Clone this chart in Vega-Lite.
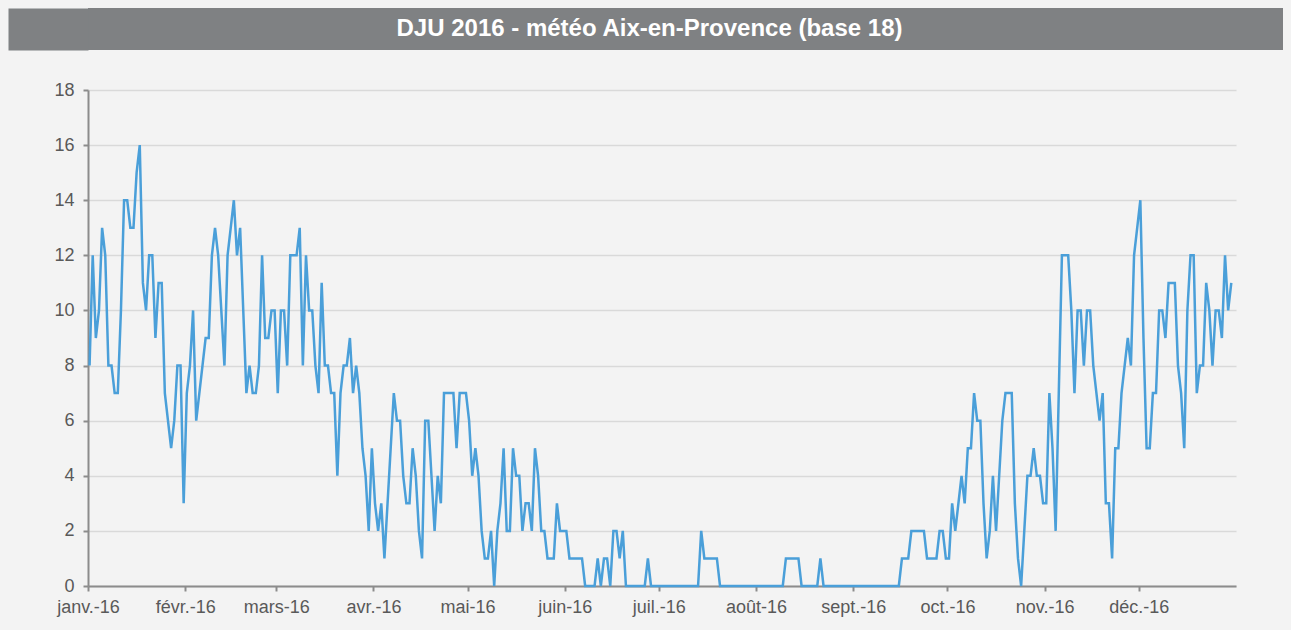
{
"$schema": "https://vega.github.io/schema/vega-lite/v6.json",
"background": "#f3f3f3",
"padding": {"left": 8, "top": 8, "right": 8, "bottom": 14},
"config": {"view": {"stroke": null}, "font": "Liberation Sans"},
"datasets": {
"head": [{"t": "DJU 2016 - météo Aix-en-Provence (base 18)"}],
"dju": [
{"date":"2016-01-01","dju":8},{"date":"2016-01-02","dju":12},{"date":"2016-01-03","dju":9},{"date":"2016-01-04","dju":10},{"date":"2016-01-05","dju":13},{"date":"2016-01-06","dju":12},{"date":"2016-01-07","dju":8},{"date":"2016-01-08","dju":8},{"date":"2016-01-09","dju":7},{"date":"2016-01-10","dju":7},{"date":"2016-01-11","dju":10},{"date":"2016-01-12","dju":14},{"date":"2016-01-13","dju":14},{"date":"2016-01-14","dju":13},{"date":"2016-01-15","dju":13},{"date":"2016-01-16","dju":15},{"date":"2016-01-17","dju":16},{"date":"2016-01-18","dju":11},{"date":"2016-01-19","dju":10},{"date":"2016-01-20","dju":12},{"date":"2016-01-21","dju":12},{"date":"2016-01-22","dju":9},{"date":"2016-01-23","dju":11},{"date":"2016-01-24","dju":11},{"date":"2016-01-25","dju":7},{"date":"2016-01-26","dju":6},{"date":"2016-01-27","dju":5},{"date":"2016-01-28","dju":6},{"date":"2016-01-29","dju":8},{"date":"2016-01-30","dju":8},{"date":"2016-01-31","dju":3},
{"date":"2016-02-01","dju":7},{"date":"2016-02-02","dju":8},{"date":"2016-02-03","dju":10},{"date":"2016-02-04","dju":6},{"date":"2016-02-05","dju":7},{"date":"2016-02-06","dju":8},{"date":"2016-02-07","dju":9},{"date":"2016-02-08","dju":9},{"date":"2016-02-09","dju":12},{"date":"2016-02-10","dju":13},{"date":"2016-02-11","dju":12},{"date":"2016-02-12","dju":10},{"date":"2016-02-13","dju":8},{"date":"2016-02-14","dju":12},{"date":"2016-02-15","dju":13},{"date":"2016-02-16","dju":14},{"date":"2016-02-17","dju":12},{"date":"2016-02-18","dju":13},{"date":"2016-02-19","dju":10},{"date":"2016-02-20","dju":7},{"date":"2016-02-21","dju":8},{"date":"2016-02-22","dju":7},{"date":"2016-02-23","dju":7},{"date":"2016-02-24","dju":8},{"date":"2016-02-25","dju":12},{"date":"2016-02-26","dju":9},{"date":"2016-02-27","dju":9},{"date":"2016-02-28","dju":10},{"date":"2016-02-29","dju":10},
{"date":"2016-03-01","dju":7},{"date":"2016-03-02","dju":10},{"date":"2016-03-03","dju":10},{"date":"2016-03-04","dju":8},{"date":"2016-03-05","dju":12},{"date":"2016-03-06","dju":12},{"date":"2016-03-07","dju":12},{"date":"2016-03-08","dju":13},{"date":"2016-03-09","dju":8},{"date":"2016-03-10","dju":12},{"date":"2016-03-11","dju":10},{"date":"2016-03-12","dju":10},{"date":"2016-03-13","dju":8},{"date":"2016-03-14","dju":7},{"date":"2016-03-15","dju":11},{"date":"2016-03-16","dju":8},{"date":"2016-03-17","dju":8},{"date":"2016-03-18","dju":7},{"date":"2016-03-19","dju":7},{"date":"2016-03-20","dju":4},{"date":"2016-03-21","dju":7},{"date":"2016-03-22","dju":8},{"date":"2016-03-23","dju":8},{"date":"2016-03-24","dju":9},{"date":"2016-03-25","dju":7},{"date":"2016-03-26","dju":8},{"date":"2016-03-27","dju":7},{"date":"2016-03-28","dju":5},{"date":"2016-03-29","dju":4},{"date":"2016-03-30","dju":2},{"date":"2016-03-31","dju":5},
{"date":"2016-04-01","dju":3},{"date":"2016-04-02","dju":2},{"date":"2016-04-03","dju":3},{"date":"2016-04-04","dju":1},{"date":"2016-04-05","dju":3},{"date":"2016-04-06","dju":5},{"date":"2016-04-07","dju":7},{"date":"2016-04-08","dju":6},{"date":"2016-04-09","dju":6},{"date":"2016-04-10","dju":4},{"date":"2016-04-11","dju":3},{"date":"2016-04-12","dju":3},{"date":"2016-04-13","dju":5},{"date":"2016-04-14","dju":4},{"date":"2016-04-15","dju":2},{"date":"2016-04-16","dju":1},{"date":"2016-04-17","dju":6},{"date":"2016-04-18","dju":6},{"date":"2016-04-19","dju":4},{"date":"2016-04-20","dju":2},{"date":"2016-04-21","dju":4},{"date":"2016-04-22","dju":3},{"date":"2016-04-23","dju":7},{"date":"2016-04-24","dju":7},{"date":"2016-04-25","dju":7},{"date":"2016-04-26","dju":7},{"date":"2016-04-27","dju":5},{"date":"2016-04-28","dju":7},{"date":"2016-04-29","dju":7},{"date":"2016-04-30","dju":7},
{"date":"2016-05-01","dju":6},{"date":"2016-05-02","dju":4},{"date":"2016-05-03","dju":5},{"date":"2016-05-04","dju":4},{"date":"2016-05-05","dju":2},{"date":"2016-05-06","dju":1},{"date":"2016-05-07","dju":1},{"date":"2016-05-08","dju":2},{"date":"2016-05-09","dju":0},{"date":"2016-05-10","dju":2},{"date":"2016-05-11","dju":3},{"date":"2016-05-12","dju":5},{"date":"2016-05-13","dju":2},{"date":"2016-05-14","dju":2},{"date":"2016-05-15","dju":5},{"date":"2016-05-16","dju":4},{"date":"2016-05-17","dju":4},{"date":"2016-05-18","dju":2},{"date":"2016-05-19","dju":3},{"date":"2016-05-20","dju":3},{"date":"2016-05-21","dju":2},{"date":"2016-05-22","dju":5},{"date":"2016-05-23","dju":4},{"date":"2016-05-24","dju":2},{"date":"2016-05-25","dju":2},{"date":"2016-05-26","dju":1},{"date":"2016-05-27","dju":1},{"date":"2016-05-28","dju":1},{"date":"2016-05-29","dju":3},{"date":"2016-05-30","dju":2},{"date":"2016-05-31","dju":2},
{"date":"2016-06-01","dju":2},{"date":"2016-06-02","dju":1},{"date":"2016-06-03","dju":1},{"date":"2016-06-04","dju":1},{"date":"2016-06-05","dju":1},{"date":"2016-06-06","dju":1},{"date":"2016-06-07","dju":0},{"date":"2016-06-08","dju":0},{"date":"2016-06-09","dju":0},{"date":"2016-06-10","dju":0},{"date":"2016-06-11","dju":1},{"date":"2016-06-12","dju":0},{"date":"2016-06-13","dju":1},{"date":"2016-06-14","dju":1},{"date":"2016-06-15","dju":0},{"date":"2016-06-16","dju":2},{"date":"2016-06-17","dju":2},{"date":"2016-06-18","dju":1},{"date":"2016-06-19","dju":2},{"date":"2016-06-20","dju":0},{"date":"2016-06-21","dju":0},{"date":"2016-06-22","dju":0},{"date":"2016-06-23","dju":0},{"date":"2016-06-24","dju":0},{"date":"2016-06-25","dju":0},{"date":"2016-06-26","dju":0},{"date":"2016-06-27","dju":1},{"date":"2016-06-28","dju":0},{"date":"2016-06-29","dju":0},{"date":"2016-06-30","dju":0},
{"date":"2016-07-01","dju":0},{"date":"2016-07-02","dju":0},{"date":"2016-07-03","dju":0},{"date":"2016-07-04","dju":0},{"date":"2016-07-05","dju":0},{"date":"2016-07-06","dju":0},{"date":"2016-07-07","dju":0},{"date":"2016-07-08","dju":0},{"date":"2016-07-09","dju":0},{"date":"2016-07-10","dju":0},{"date":"2016-07-11","dju":0},{"date":"2016-07-12","dju":0},{"date":"2016-07-13","dju":0},{"date":"2016-07-14","dju":2},{"date":"2016-07-15","dju":1},{"date":"2016-07-16","dju":1},{"date":"2016-07-17","dju":1},{"date":"2016-07-18","dju":1},{"date":"2016-07-19","dju":1},{"date":"2016-07-20","dju":0},{"date":"2016-07-21","dju":0},{"date":"2016-07-22","dju":0},{"date":"2016-07-23","dju":0},{"date":"2016-07-24","dju":0},{"date":"2016-07-25","dju":0},{"date":"2016-07-26","dju":0},{"date":"2016-07-27","dju":0},{"date":"2016-07-28","dju":0},{"date":"2016-07-29","dju":0},{"date":"2016-07-30","dju":0},{"date":"2016-07-31","dju":0},
{"date":"2016-08-01","dju":0},{"date":"2016-08-02","dju":0},{"date":"2016-08-03","dju":0},{"date":"2016-08-04","dju":0},{"date":"2016-08-05","dju":0},{"date":"2016-08-06","dju":0},{"date":"2016-08-07","dju":0},{"date":"2016-08-08","dju":0},{"date":"2016-08-09","dju":0},{"date":"2016-08-10","dju":1},{"date":"2016-08-11","dju":1},{"date":"2016-08-12","dju":1},{"date":"2016-08-13","dju":1},{"date":"2016-08-14","dju":1},{"date":"2016-08-15","dju":0},{"date":"2016-08-16","dju":0},{"date":"2016-08-17","dju":0},{"date":"2016-08-18","dju":0},{"date":"2016-08-19","dju":0},{"date":"2016-08-20","dju":0},{"date":"2016-08-21","dju":1},{"date":"2016-08-22","dju":0},{"date":"2016-08-23","dju":0},{"date":"2016-08-24","dju":0},{"date":"2016-08-25","dju":0},{"date":"2016-08-26","dju":0},{"date":"2016-08-27","dju":0},{"date":"2016-08-28","dju":0},{"date":"2016-08-29","dju":0},{"date":"2016-08-30","dju":0},{"date":"2016-08-31","dju":0},
{"date":"2016-09-01","dju":0},{"date":"2016-09-02","dju":0},{"date":"2016-09-03","dju":0},{"date":"2016-09-04","dju":0},{"date":"2016-09-05","dju":0},{"date":"2016-09-06","dju":0},{"date":"2016-09-07","dju":0},{"date":"2016-09-08","dju":0},{"date":"2016-09-09","dju":0},{"date":"2016-09-10","dju":0},{"date":"2016-09-11","dju":0},{"date":"2016-09-12","dju":0},{"date":"2016-09-13","dju":0},{"date":"2016-09-14","dju":0},{"date":"2016-09-15","dju":0},{"date":"2016-09-16","dju":1},{"date":"2016-09-17","dju":1},{"date":"2016-09-18","dju":1},{"date":"2016-09-19","dju":2},{"date":"2016-09-20","dju":2},{"date":"2016-09-21","dju":2},{"date":"2016-09-22","dju":2},{"date":"2016-09-23","dju":2},{"date":"2016-09-24","dju":1},{"date":"2016-09-25","dju":1},{"date":"2016-09-26","dju":1},{"date":"2016-09-27","dju":1},{"date":"2016-09-28","dju":2},{"date":"2016-09-29","dju":2},{"date":"2016-09-30","dju":1},
{"date":"2016-10-01","dju":1},{"date":"2016-10-02","dju":3},{"date":"2016-10-03","dju":2},{"date":"2016-10-04","dju":3},{"date":"2016-10-05","dju":4},{"date":"2016-10-06","dju":3},{"date":"2016-10-07","dju":5},{"date":"2016-10-08","dju":5},{"date":"2016-10-09","dju":7},{"date":"2016-10-10","dju":6},{"date":"2016-10-11","dju":6},{"date":"2016-10-12","dju":3},{"date":"2016-10-13","dju":1},{"date":"2016-10-14","dju":2},{"date":"2016-10-15","dju":4},{"date":"2016-10-16","dju":2},{"date":"2016-10-17","dju":4},{"date":"2016-10-18","dju":6},{"date":"2016-10-19","dju":7},{"date":"2016-10-20","dju":7},{"date":"2016-10-21","dju":7},{"date":"2016-10-22","dju":3},{"date":"2016-10-23","dju":1},{"date":"2016-10-24","dju":0},{"date":"2016-10-25","dju":2},{"date":"2016-10-26","dju":4},{"date":"2016-10-27","dju":4},{"date":"2016-10-28","dju":5},{"date":"2016-10-29","dju":4},{"date":"2016-10-30","dju":4},{"date":"2016-10-31","dju":3},
{"date":"2016-11-01","dju":3},{"date":"2016-11-02","dju":7},{"date":"2016-11-03","dju":5},{"date":"2016-11-04","dju":2},{"date":"2016-11-05","dju":7},{"date":"2016-11-06","dju":12},{"date":"2016-11-07","dju":12},{"date":"2016-11-08","dju":12},{"date":"2016-11-09","dju":10},{"date":"2016-11-10","dju":7},{"date":"2016-11-11","dju":10},{"date":"2016-11-12","dju":10},{"date":"2016-11-13","dju":8},{"date":"2016-11-14","dju":10},{"date":"2016-11-15","dju":10},{"date":"2016-11-16","dju":8},{"date":"2016-11-17","dju":7},{"date":"2016-11-18","dju":6},{"date":"2016-11-19","dju":7},{"date":"2016-11-20","dju":3},{"date":"2016-11-21","dju":3},{"date":"2016-11-22","dju":1},{"date":"2016-11-23","dju":5},{"date":"2016-11-24","dju":5},{"date":"2016-11-25","dju":7},{"date":"2016-11-26","dju":8},{"date":"2016-11-27","dju":9},{"date":"2016-11-28","dju":8},{"date":"2016-11-29","dju":12},{"date":"2016-11-30","dju":13},
{"date":"2016-12-01","dju":14},{"date":"2016-12-02","dju":9},{"date":"2016-12-03","dju":5},{"date":"2016-12-04","dju":5},{"date":"2016-12-05","dju":7},{"date":"2016-12-06","dju":7},{"date":"2016-12-07","dju":10},{"date":"2016-12-08","dju":10},{"date":"2016-12-09","dju":9},{"date":"2016-12-10","dju":11},{"date":"2016-12-11","dju":11},{"date":"2016-12-12","dju":11},{"date":"2016-12-13","dju":8},{"date":"2016-12-14","dju":7},{"date":"2016-12-15","dju":5},{"date":"2016-12-16","dju":10},{"date":"2016-12-17","dju":12},{"date":"2016-12-18","dju":12},{"date":"2016-12-19","dju":7},{"date":"2016-12-20","dju":8},{"date":"2016-12-21","dju":8},{"date":"2016-12-22","dju":11},{"date":"2016-12-23","dju":10},{"date":"2016-12-24","dju":8},{"date":"2016-12-25","dju":10},{"date":"2016-12-26","dju":10},{"date":"2016-12-27","dju":9},{"date":"2016-12-28","dju":12},{"date":"2016-12-29","dju":10},{"date":"2016-12-30","dju":11}
]
},
"concat": [
{
"width": 1195, "height": 42,
"view": {"fill": "#7f8183", "stroke": null},
"data": {"name": "head"},
"mark": {"type": "text", "fontSize": 24, "fontWeight": "bold", "color": "#ffffff", "font": "Liberation Sans", "dx": -36},
"encoding": {
"text": {"field": "t", "type": "nominal"},
"y": {"datum": 0, "type": "quantitative", "scale": {"domain": [-1, 1]},
"axis": {"title": null, "labels": false, "ticks": false, "grid": false, "domain": true, "domainColor": "#7f8183", "domainWidth": 80, "offset": 40, "minExtent": 0, "maxExtent": 80}}
}
},
{
"width": 1148, "height": 496,
"data": {"name": "dju"},
"mark": {"type": "line", "color": "#4a9fd9", "strokeWidth": 2.5, "interpolate": "linear"},
"encoding": {
"x": {"field": "date", "type": "temporal", "timeUnit": "utcyearmonthdate", "bandPosition": 0.5,
"scale": {"type": "utc", "domain": [{"year": 2016, "month": 1, "date": 1, "utc": true}, {"year": 2017, "month": 1, "date": 1, "utc": true}]},
"axis": {"title": null, "grid": false,
"values": [{"year": 2016, "month": 1, "date": 1, "utc": true}, {"year": 2016, "month": 2, "date": 1, "utc": true}, {"year": 2016, "month": 3, "date": 1, "utc": true}, {"year": 2016, "month": 4, "date": 1, "utc": true}, {"year": 2016, "month": 5, "date": 1, "utc": true}, {"year": 2016, "month": 6, "date": 1, "utc": true}, {"year": 2016, "month": 7, "date": 1, "utc": true}, {"year": 2016, "month": 8, "date": 1, "utc": true}, {"year": 2016, "month": 9, "date": 1, "utc": true}, {"year": 2016, "month": 10, "date": 1, "utc": true}, {"year": 2016, "month": 11, "date": 1, "utc": true}, {"year": 2016, "month": 12, "date": 1, "utc": true}],
"labelExpr": "['janv.','févr.','mars','avr.','mai','juin','juil.','août','sept.','oct.','nov.','déc.'][utcmonth(datum.value)] + '-16'",
"labelFont": "Liberation Sans", "labelFontSize": 18, "labelColor": "#595959", "labelPadding": 7, "labelOverlap": false, "labelFlush": false,
"domainColor": "#8c8c8c", "domainWidth": 2, "tickColor": "#8c8c8c", "tickWidth": 2, "tickSize": 5}},
"y": {"field": "dju", "type": "quantitative",
"scale": {"domain": [0, 18], "nice": false, "zero": true},
"axis": {"title": null, "values": [0, 2, 4, 6, 8, 10, 12, 14, 16, 18], "grid": true, "gridColor": "#d9d9d9", "gridWidth": 1.5,
"labelFont": "Liberation Sans", "labelFontSize": 18, "labelColor": "#595959", "labelPadding": 9,
"domainColor": "#8c8c8c", "domainWidth": 2, "tickColor": "#8c8c8c", "tickWidth": 2, "tickSize": 5, "minExtent": 80, "maxExtent": 80}}
}
}
],
"columns": 1,
"align": "none",
"bounds": "full",
"spacing": 31
}
